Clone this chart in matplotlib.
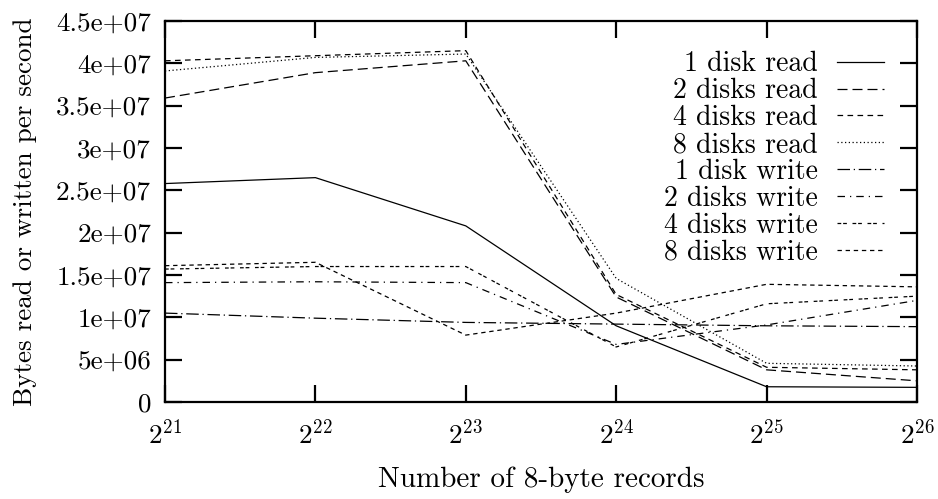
import matplotlib
matplotlib.use("Agg")
import matplotlib.pyplot as plt
from matplotlib.ticker import FixedLocator, NullLocator

# Number of 8-byte records (2^21 .. 2^26)
records = [2**21, 2**22, 2**23, 2**24, 2**25, 2**26]
tick_labels = [r"$2^{21}$", r"$2^{22}$", r"$2^{23}$", r"$2^{24}$", r"$2^{25}$", r"$2^{26}$"]

# Bytes read or written per second
read_1 = [2.58e7, 2.65e7, 2.08e7, 9.0e6, 1.8e6, 1.73e6]
read_2 = [3.59e7, 3.89e7, 4.03e7, 1.24e7, 3.8e6, 2.5e6]
read_4 = [4.03e7, 4.09e7, 4.15e7, 1.27e7, 4.1e6, 3.8e6]
read_8 = [3.91e7, 4.07e7, 4.11e7, 1.46e7, 4.57e6, 4.25e6]
write_1 = [1.05e7, 9.9e6, 9.4e6, 9.2e6, 9.0e6, 8.9e6]
write_2 = [1.41e7, 1.42e7, 1.41e7, 6.8e6, 9.1e6, 1.2e7]
write_4 = [1.57e7, 1.6e7, 1.6e7, 6.5e6, 1.16e7, 1.25e7]
write_8 = [1.61e7, 1.65e7, 7.9e6, 1.05e7, 1.39e7, 1.36e7]

yticks = [0, 5e6, 1e7, 1.5e7, 2e7, 2.5e7, 3e7, 3.5e7, 4e7, 4.5e7]
ytick_labels = ["0", "5e+06", "1e+07", "1.5e+07", "2e+07", "2.5e+07",
                "3e+07", "3.5e+07", "4e+07", "4.5e+07"]

plt.rcParams["font.family"] = ["cmr10", "DejaVu Serif"]
plt.rcParams["mathtext.fontset"] = "cm"
plt.rcParams["axes.unicode_minus"] = False

fig = plt.figure(figsize=(9.38, 4.99), dpi=100)
ax = fig.add_axes([0.1759, 0.1944, 0.9776 - 0.1759, 0.9579 - 0.1944])

series = [
    ("1 disk read", read_1, "-"),
    ("2 disks read", read_2, (0, (8, 4))),
    ("4 disks read", read_4, (0, (4.5, 3.5))),
    ("8 disks read", read_8, (0, (1, 2))),
    ("1 disk write", write_1, (0, (10, 3, 1, 3))),
    ("2 disks write", write_2, (0, (6, 4, 1, 4))),
    ("4 disks write", write_4, (0, (3, 1.5, 3, 4.5))),
    ("8 disks write", write_8, (0, (3.5, 3))),
]
for label, vals, ls in series:
    ax.plot(records, vals, color="black", lw=0.9, linestyle=ls, label=label)

ax.set_xscale("log", base=2)
ax.set_xlim(2**21, 2**26)
ax.set_ylim(0, 4.5e7)
ax.xaxis.set_major_locator(FixedLocator(records))
ax.xaxis.set_minor_locator(NullLocator())
ax.set_xticklabels(tick_labels)
ax.set_yticks(yticks)
ax.set_yticklabels(ytick_labels)

ax.tick_params(direction="in", length=12, width=1.6, top=True, right=True,
               labelsize=19.5)
ax.tick_params(axis="x", pad=12)
ax.tick_params(axis="y", pad=10)
for sp in ax.spines.values():
    sp.set_linewidth(1.6)

ax.set_xlabel("Number of 8-byte records", fontsize=21, labelpad=13)
ax.set_ylabel("Bytes read or written per second", fontsize=19.5, labelpad=14)

leg = ax.legend(loc="upper right", bbox_to_anchor=(0.956, 0.921), frameon=False,
                markerfirst=False, fontsize=20, handlelength=1.7,
                handletextpad=0.68, labelspacing=0.02, borderpad=0,
                borderaxespad=0)
# right-align the legend rows (text flush against the line samples)
vp = leg._legend_box._children[-1]._children[0]
vp.align = "right"

fig.savefig("out.png", dpi=100)
